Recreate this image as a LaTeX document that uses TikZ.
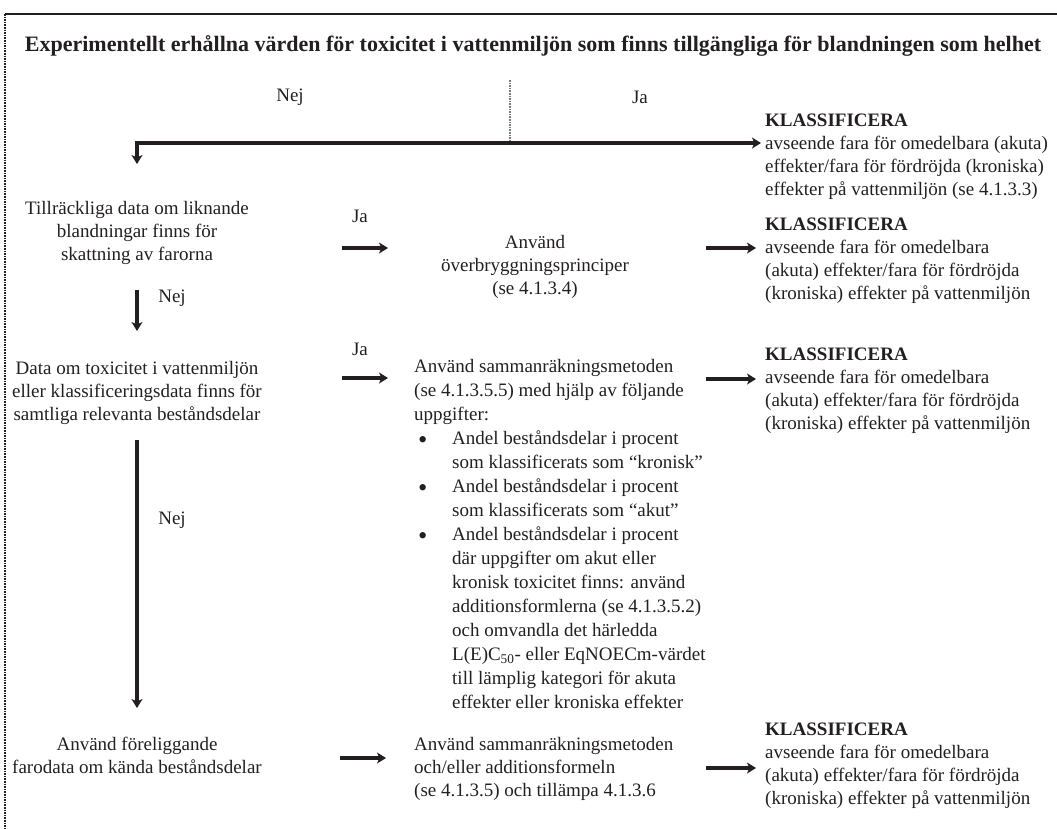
\documentclass[tikz,border=0pt]{standalone}
\usepackage{fontspec}
\setmainfont{Liberation Serif}
\usetikzlibrary{arrows.meta}
\definecolor{ink}{RGB}{35,31,32}
\newcommand{\listdot}{\makebox[38pt][l]{\hspace{4pt}\raisebox{-4.5pt}{\scalebox{1.4}{\textbullet}}}}
\newcommand{\listgap}{\hspace*{38pt}}
\begin{document}
\begin{tikzpicture}[x=1pt,y=-1pt,
  body/.style={font=\fontsize{19}{23}\selectfont, inner sep=0pt, text=ink},
  cblock/.style={body, align=center},
  lblock/.style={body, align=left, anchor=north west},
  answer/.style={body},
  heading/.style={font=\bfseries\fontsize{22}{26}\selectfont, inner sep=0pt, text=ink},
  arr/.style={line width=3.4pt, draw=ink, -{Stealth[length=9pt,width=11pt,inset=2.5pt]}},
  frame/.style={draw=ink}]
\useasboundingbox (0,0) rectangle (1057,828);

% outer frame: solid top rule, dotted left rule
\draw[frame, line width=2pt] (5,14) -- (1057,14);
\draw[frame, line width=1.6pt, densely dotted] (5,14) -- (5,828);

% heading question
\node[heading] (q0) at (533,46) {Experimentellt erhållna värden för toxicitet i vattenmiljön som finns tillgängliga för blandningen som helhet};
\node[answer] (nej0) at (290,97) {Nej};
\node[answer] (ja0) at (640,97) {Ja};

% split point under the heading
\coordinate (split) at (510,80);
\coordinate (splitlow) at (510,143);
\coordinate (corner) at (137,143);
\coordinate (tipright) at (761,143);
\coordinate (tipdown) at (137,164);
\draw[ink!60, line width=1.6pt, densely dotted] (split) -- (splitlow);
\draw[line width=3.4pt, draw=ink, line join=miter,
  {Stealth[length=9pt,width=11pt,inset=2.5pt]}-{Stealth[length=9pt,width=11pt,inset=2.5pt]}]
  (tipright) -- (corner) -- (tipdown);

% left column: questions
\node[cblock, anchor=north] (q1) at (137,201) {Tillräckliga data om liknande\\blandningar finns för\\skattning av farorna};
\node[cblock, anchor=north] (q2) at (137,361) {Data om toxicitet i vattenmiljön\\eller klassificeringsdata finns för\\samtliga relevanta beståndsdelar};
\node[cblock, anchor=north] (q3) at (137,737) {Använd föreliggande\\farodata om kända beståndsdelar};

\coordinate (d1a) at (137,290);
\coordinate (d1b) at (137,331);
\draw[arr] (d1a) -- (d1b);
\node[answer] (nej1) at (172,298) {Nej};
\coordinate (d2a) at (137,440);
\coordinate (d2b) at (137,708);
\draw[arr] (d2a) -- (d2b);
\node[answer] (nej2) at (172,520) {Nej};

% middle column: methods
\node[cblock, anchor=north] (m1) at (535,235) {Använd\\överbryggningsprinciper\\(se 4.1.3.4)};
\node[lblock, font=\fontsize{19}{24}\selectfont] (m2) at (414,359) {Använd sammanräkningsmetoden\\
(se 4.1.3.5.5) med hjälp av följande\\
uppgifter:\\
\listdot Andel beståndsdelar i procent\\
\listgap som klassificerats som “kronisk”\\
\listdot Andel beståndsdelar i procent\\
\listgap som klassificerats som “akut”\\
\listdot Andel beståndsdelar i procent\\
\listgap där uppgifter om akut eller\\
\listgap kronisk toxicitet finns: använd\\
\listgap additionsformlerna (se 4.1.3.5.2)\\
\listgap och omvandla det härledda\\
\listgap L(E)C\textsubscript{50}- eller EqNOECm-värdet\\
\listgap till lämplig kategori för akuta\\
\listgap effekter eller kroniska effekter};
\node[lblock] (m3) at (414,737) {Använd sammanräkningsmetoden\\och/eller additionsformeln\\(se 4.1.3.5) och tillämpa 4.1.3.6};

\node[answer] (ja1) at (360,216) {Ja};
\node[answer] (ja2) at (360,349) {Ja};

% right column: classification outcomes
\node[lblock] (k1) at (765,114) {\textbf{KLASSIFICERA}\\avseende fara för omedelbara (akuta)\\effekter/fara för fördröjda (kroniska)\\effekter på vattenmiljön (se 4.1.3.3)};
\node[lblock] (k2) at (765,218) {\textbf{KLASSIFICERA}\\avseende fara för omedelbara\\(akuta) effekter/fara för fördröjda\\(kroniska) effekter på vattenmiljön};
\node[lblock] (k3) at (765,348) {\textbf{KLASSIFICERA}\\avseende fara för omedelbara\\(akuta) effekter/fara för fördröjda\\(kroniska) effekter på vattenmiljön};
\node[lblock] (k4) at (765,723) {\textbf{KLASSIFICERA}\\avseende fara för omedelbara\\(akuta) effekter/fara för fördröjda\\(kroniska) effekter på vattenmiljön};

% short horizontal arrows
\coordinate (a1s) at (342,248); \coordinate (a1e) at (388,248);
\coordinate (a2s) at (706,248); \coordinate (a2e) at (756,248);
\coordinate (a3s) at (342,378); \coordinate (a3e) at (388,378);
\coordinate (a4s) at (706,379); \coordinate (a4e) at (756,379);
\coordinate (a5s) at (340,758); \coordinate (a5e) at (386,758);
\coordinate (a6s) at (706,768); \coordinate (a6e) at (756,768);
\foreach \s/\e in {a1s/a1e,a2s/a2e,a3s/a3e,a4s/a4e,a5s/a5e,a6s/a6e}
  \draw[arr] (\s) -- (\e);
\end{tikzpicture}
\end{document}
